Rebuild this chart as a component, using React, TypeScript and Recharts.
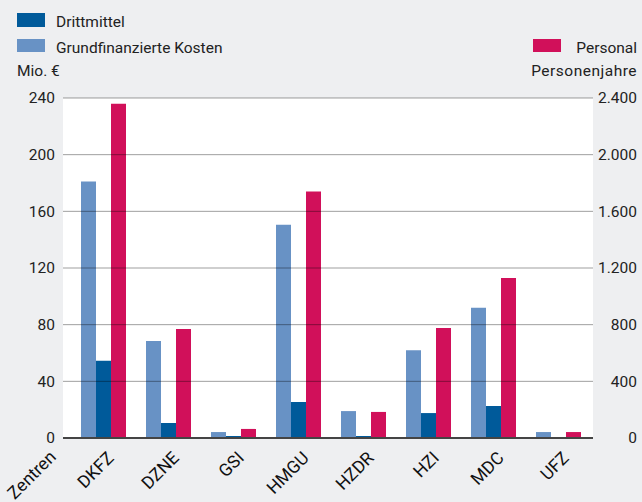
import React from 'react';
import { BarChart, Bar, XAxis, YAxis, CartesianGrid, ReferenceLine, Customized } from 'recharts';

const categories = ['DKFZ', 'DZNE', 'GSI', 'HMGU', 'HZDR', 'HZI', 'MDC', 'UFZ'];
const grundfinanziert = [181, 68.5, 4.2, 150.5, 19, 62, 92, 4.2];
const drittmittel = [54.5, 10.6, 1.4, 25.4, 1.4, 17.6, 22.6, 0.7];
const personal = [2360, 770, 64, 1740, 184, 776, 1130, 42];

const leftTicks = [0, 40, 80, 120, 160, 200, 240];
const rightTicks = [0, 400, 800, 1200, 1600, 2000, 2400];
const gridValues = [40, 80, 120, 160, 200, 240];

const COLORS = {
  grund: '#6892c5',
  dritt: '#005a9a',
  personal: '#d1105a',
  bg: '#eeeff1',
  text: '#222222',
};
const FONT = 'Roboto, "Liberation Sans", Arial, sans-serif';

const data = categories.map((c, i) => ({
  name: c,
  grund: grundfinanziert[i],
  dritt: drittmittel[i],
  personal: personal[i],
}));

const fmtDE = (v: number) => v.toLocaleString('de-DE');

const LeftTick = (props: any) => {
  const { y, payload } = props;
  return (
    <text x={55} y={y} dy="0.35em" textAnchor="end" fontSize={15.5} fontFamily={FONT} fill={COLORS.text}>
      {payload.value}
    </text>
  );
};

const RightTick = (props: any) => {
  const { y, payload } = props;
  return (
    <text x={637} y={y} dy="0.35em" textAnchor="end" fontSize={15.5} fontFamily={FONT} fill={COLORS.text}>
      {fmtDE(payload.value)}
    </text>
  );
};

const CatTick = (props: any) => {
  const { x, payload, index } = props;
  const ax = x + 11;
  const ay = 459;
  const common = { textAnchor: 'end' as const, fontSize: 17.5, fontFamily: FONT, fill: '#111' };
  return (
    <g>
      {index === 0 && (
        <text x={ax - 58} y={ay - 1} {...common} transform={`rotate(-45, ${ax - 58}, ${ay - 1})`}>
          Zentren
        </text>
      )}
      <text x={ax} y={ay} {...common} transform={`rotate(-45, ${ax}, ${ay})`}>
        {payload.value}
      </text>
    </g>
  );
};

const LegendLayer = () => (
  <g fontFamily={FONT} fontSize={15.5} fill={COLORS.text}>
    <rect x={17} y={13} width={28} height={14} fill={COLORS.dritt} />
    <text x={56} y={27}>Drittmittel</text>
    <rect x={17} y={39} width={28} height={13} fill={COLORS.grund} />
    <text x={56} y={53}>Grundfinanzierte Kosten</text>
    <rect x={533} y={39} width={28} height={13} fill={COLORS.personal} />
    <text x={637} y={53} textAnchor="end">Personal</text>
    <text x={17} y={76}>Mio. €</text>
    <text x={637} y={76} textAnchor="end" letterSpacing={0.5}>Personenjahre</text>
  </g>
);

export default function App() {
  return (
    <div style={{ position: 'absolute', left: 0, top: 0, width: 642, height: 502, background: COLORS.bg }}>
      <BarChart
        width={642}
        height={502}
        data={data}
        margin={{ top: 98, right: 0, bottom: 0, left: 0 }}
        barGap={0}
        barCategoryGap={9.5}
      >
        <CartesianGrid fill="#ffffff" horizontal={false} vertical={false} />
        <XAxis
          dataKey="name"
          height={64}
          padding={{ left: 8.5, right: 1.5 }}
          axisLine={{ stroke: '#444', strokeWidth: 2 }}
          tickLine={false}
          tick={<CatTick />}
          interval={0}
        />
        <YAxis
          yAxisId="left"
          orientation="left"
          width={63}
          domain={[0, 240]}
          ticks={leftTicks}
          axisLine={false}
          tickLine={false}
          tick={<LeftTick />}
        />
        <YAxis
          yAxisId="right"
          orientation="right"
          width={49}
          domain={[0, 2400]}
          ticks={rightTicks}
          axisLine={false}
          tickLine={false}
          tick={<RightTick />}
        />
        <Bar yAxisId="left" dataKey="grund" name="Grundfinanzierte Kosten" fill={COLORS.grund} isAnimationActive={false} />
        <Bar yAxisId="left" dataKey="dritt" name="Drittmittel" fill={COLORS.dritt} isAnimationActive={false} />
        <Bar yAxisId="right" dataKey="personal" name="Personal" fill={COLORS.personal} isAnimationActive={false} />
        {gridValues.map((v) => (
          <ReferenceLine key={v} yAxisId="left" y={v} stroke="rgba(0,0,0,0.38)" strokeWidth={1} />
        ))}
        <Customized component={LegendLayer} />
      </BarChart>
    </div>
  );
}
